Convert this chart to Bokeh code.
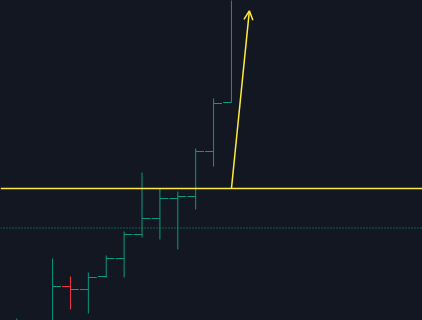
from bokeh.plotting import figure
from bokeh.models import Range1d, Span, Arrow, OpenHead, ColumnDataSource
from bokeh.embed import file_html
from bokeh.resources import INLINE

# Bar index and OHLC prices
idx = [0, 1, 2, 3, 4, 5, 6, 7, 8, 9, 10, 11, 12]
opens = [98.0, 98.8, 99.3, 103.4, 103.1, 104.4, 106.2, 108.6, 110.2, 112.2, 112.4, 116.9, 121.8]
highs = [100.2, 99.8, 106.2, 104.4, 104.8, 106.5, 108.9, 114.8, 113.2, 112.9, 117.2, 122.2, 136.0]
lows = [97.5, 97.0, 98.5, 101.1, 100.7, 104.3, 104.3, 108.3, 108.1, 107.1, 111.1, 115.4, 121.8]
closes = [98.8, 99.3, 103.4, 103.1, 104.3, 106.2, 108.6, 110.2, 112.2, 112.4, 116.9, 121.7, 134.0]

level_price = 113.2      # yellow horizontal level
dotted_price = 109.25    # dotted reference line
arrow_from = (12, 113.2)
arrow_to = (13, 130.97)

UP = "#089981"
DOWN = "#F23645"
BG = "#131722"
YELLOW = "#FFEB3B"

colors = [UP if c >= o else DOWN for o, c in zip(opens, closes)]
tw = 0.47
src = ColumnDataSource(dict(
    x=idx, o=opens, h=highs, l=lows, c=closes, color=colors,
    xl=[i - tw for i in idx], xr=[i + tw for i in idx],
))

p = figure(width=422, height=320, output_backend="svg", toolbar_location=None,
           x_range=Range1d(-0.911, 22.68), y_range=Range1d(100, 132),
           x_axis_type=None, y_axis_type=None,
           min_border=0, min_border_left=0, min_border_right=0,
           min_border_top=0, min_border_bottom=0)
p.grid.visible = False
p.outline_line_color = None
p.outline_line_alpha = 0
p.background_fill_color = BG
p.border_fill_color = BG
p.styles = {"background-color": BG}

p.segment(x0="x", y0="l", x1="x", y1="h", color="color", line_width=1, source=src)
p.segment(x0="xl", y0="o", x1="x", y1="o", color="color", line_width=1, source=src)
p.segment(x0="x", y0="c", x1="xr", y1="c", color="color", line_width=1, source=src)

p.add_layout(Span(location=dotted_price, dimension="width", line_color=UP,
                  line_alpha=1.0, line_dash="1 2", line_width=1))
p.add_layout(Span(location=level_price, dimension="width", line_color=YELLOW,
                  line_width=1.5))
p.add_layout(Arrow(x_start=arrow_from[0], y_start=arrow_from[1],
                   x_end=arrow_to[0], y_end=arrow_to[1],
                   line_color=YELLOW, line_width=1.5,
                   end=OpenHead(size=9, line_color=YELLOW, line_width=1.5)))

html = file_html(p, INLINE)
html = html.replace("<body>", '<body style="margin:0;background:%s">' % BG, 1)
open("out.html", "w").write(html)
